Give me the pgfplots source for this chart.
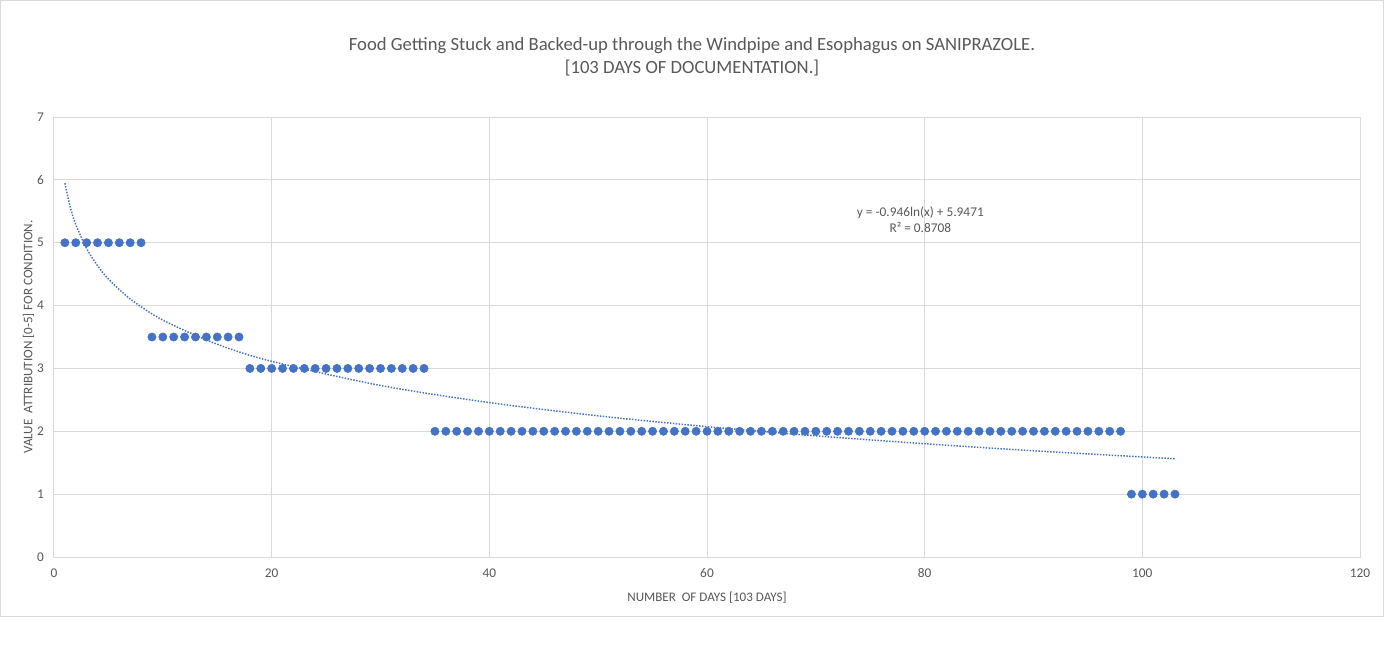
\documentclass[border=0pt]{standalone}
\usepackage{pgfplots}
\pgfplotsset{compat=1.18}
\usepackage{fontspec}
\setmainfont{Carlito}
\definecolor{txt}{HTML}{595959}
\definecolor{grd}{HTML}{D9D9D9}
\definecolor{dot}{HTML}{4472C4}
\begin{document}
\begin{tikzpicture}
% page frame, 1px = 0.75pt, origin at top-left
\fill[white] (0,0) rectangle (1038.75pt,-486pt);
\draw[grd,line width=0.75pt] (0.4pt,-0.4pt) rectangle (1037.9pt,-462.4pt);
\node[txt,font=\fontsize{14}{17}\selectfont,align=center] at (519pt,-42.5pt)
  {Food Getting Stuck and Backed-up through the Windpipe and Esophagus on SANIPRAZOLE.\\{}{[103 DAYS OF DOCUMENTATION.]}};
\begin{axis}[
    at={(40.5pt,-417.75pt)},
    anchor=south west,
    scale only axis,
    width=979.5pt,
    height=330pt,
    xmin=0, xmax=120,
    ymin=0, ymax=7,
    xtick={0,20,...,120},
    ytick={0,1,...,7},
    grid=major,
    major grid style={grd,line width=0.75pt},
    axis line style={grd,line width=0.75pt},
    major tick length=0pt,
    tick label style={txt,font=\fontsize{10}{12}\selectfont},
    /pgf/number format/assume math mode=true,
    xticklabel style={yshift=-5pt},
    yticklabel style={xshift=-4pt},
    xlabel={NUMBER\ \ OF DAYS [103 DAYS]},
    ylabel={VALUE\ \ ATTRIBUTION [0-5] FOR CONDITION.},
    label style={txt,font=\fontsize{9.8}{12}\selectfont},
    xlabel style={yshift=-4pt},
    ylabel style={yshift=-4.5pt},
    clip=false,
]
\addplot[only marks,mark=*,mark size=3.1pt,dot,mark options={draw=none,fill=dot}]
coordinates {
(1,5)(2,5)(3,5)(4,5)(5,5)(6,5)(7,5)(8,5)
(9,3.5)(10,3.5)(11,3.5)(12,3.5)(13,3.5)(14,3.5)(15,3.5)(16,3.5)(17,3.5)
(18,3)(19,3)(20,3)(21,3)(22,3)(23,3)(24,3)(25,3)(26,3)(27,3)(28,3)(29,3)
(30,3)(31,3)(32,3)(33,3)(34,3)
(35,2)(36,2)(37,2)(38,2)(39,2)(40,2)(41,2)(42,2)(43,2)(44,2)(45,2)(46,2)
(47,2)(48,2)(49,2)(50,2)(51,2)(52,2)(53,2)(54,2)(55,2)(56,2)(57,2)(58,2)
(59,2)(60,2)(61,2)(62,2)(63,2)(64,2)(65,2)(66,2)(67,2)(68,2)(69,2)(70,2)
(71,2)(72,2)(73,2)(74,2)(75,2)(76,2)(77,2)(78,2)(79,2)(80,2)(81,2)(82,2)
(83,2)(84,2)(85,2)(86,2)(87,2)(88,2)(89,2)(90,2)(91,2)(92,2)(93,2)(94,2)
(95,2)(96,2)(97,2)(98,2)
(99,1)(100,1)(101,1)(102,1)(103,1)
};
% logarithmic trendline
\addplot[dot,line width=1.1pt,dash pattern=on 1.1pt off 1.1pt,smooth]
coordinates {
(1,5.947)(1.5,5.564)(2,5.291)(3,4.908)(4,4.636)(5,4.424)(7,4.106)
(10,3.769)(15,3.385)(20,3.113)(30,2.729)(40,2.457)(50,2.246)
(60,2.074)(70,1.928)(80,1.802)(90,1.690)(103,1.563)
};
\node[txt,font=\fontsize{10}{12}\selectfont,align=center] at (axis cs:79.6,5.37)
  {y = -0.946ln(x) + 5.9471\\R² = 0.8708};
\end{axis}
\end{tikzpicture}
\end{document}
